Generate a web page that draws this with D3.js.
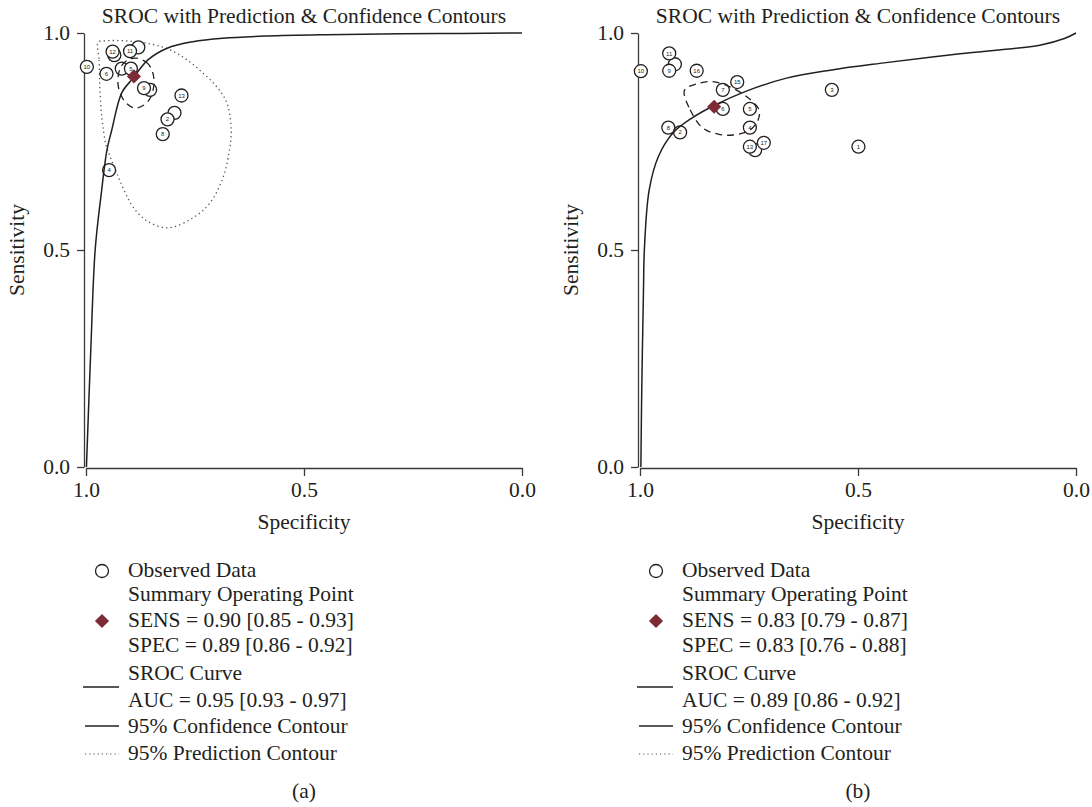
<!DOCTYPE html>
<html><head><meta charset="utf-8">
<script src="https://cdn.jsdelivr.net/npm/d3@7"></script>
<style>
body{margin:0;background:#fff}
svg{display:block}
text{font-family:"Liberation Serif","Times New Roman",serif;fill:#231f20}
</style>
</head><body>
<svg id="chart" width="1092" height="807"></svg>
<script>
// ---------------- DATA ----------------
const tickValues = [0, 0.5, 1];
const titleText = "SROC with Prediction & Confidence Contours";
const xTitle = "Specificity";
const yTitle = "Sensitivity";
const panelTags = ["(a)", "(b)"];

// Panel (a) studies (drawn in this order; earlier ones sit behind)
const studyLabelsA = ["1","7","15","10","12","11","14","5","6","9","13","3","2","8","4"];
const studySpecA   = [0.935,0.880,0.853,0.998,0.939,0.899,0.918,0.897,0.953,0.867,0.781,0.797,0.813,0.824,0.947];
const studySensA   = [0.949,0.967,0.869,0.922,0.957,0.958,0.918,0.918,0.906,0.873,0.856,0.816,0.801,0.767,0.684];
const summaryA = [0.89, 0.90]; // [spec, sens]
const srocSpecA = [0.999,0.989,0.979,0.965,0.952,0.941,0.918,0.892,0.858,0.814,0.755,0.686,0.585,0.45,0.28,0.14,0];
const srocSensA = [0.0,0.27,0.50,0.63,0.73,0.776,0.862,0.896,0.938,0.965,0.980,0.988,0.993,0.996,0.998,0.999,1.0];
const confSpecA = [0.885,0.862,0.849,0.844,0.851,0.867,0.888,0.908,0.922,0.927,0.920,0.904];
const confSensA = [0.942,0.933,0.915,0.887,0.853,0.834,0.827,0.839,0.862,0.892,0.922,0.938];
const predSpecA = [0.972,0.970,0.968,0.963,0.954,0.940,0.927,0.911,0.892,0.860,0.812,0.755,0.716,0.686,0.672,0.667,0.677,0.700,0.732,0.768,0.807,0.853,0.911,0.956];
const predSensA = [0.979,0.938,0.869,0.800,0.742,0.703,0.671,0.634,0.599,0.567,0.551,0.574,0.608,0.666,0.724,0.776,0.839,0.876,0.908,0.938,0.961,0.975,0.982,0.982];
const legendTextA = ["Observed Data","Summary Operating Point","SENS = 0.90 [0.85 - 0.93]","SPEC = 0.89 [0.86 - 0.92]","SROC Curve","AUC = 0.95 [0.93 - 0.97]","95% Confidence Contour","95% Prediction Contour"];

// Panel (b) studies
const studyLabelsB = ["12","14","10","11","9","16","15","7","3","6","5","4","8","2","17","13","1"];
const studySpecB   = [0.920,0.736,0.998,0.933,0.933,0.870,0.777,0.810,0.560,0.810,0.748,0.748,0.935,0.908,0.716,0.748,0.499];
const studySensB   = [0.928,0.730,0.912,0.953,0.913,0.913,0.887,0.869,0.869,0.825,0.825,0.782,0.782,0.771,0.747,0.738,0.738];
const summaryB = [0.83, 0.83];
const srocSpecB = [0.998,0.996,0.992,0.990,0.979,0.958,0.924,0.881,0.830,0.759,0.664,0.560,0.450,0.266,0.083,0.025,0];
const srocSensB = [0.0,0.177,0.408,0.500,0.638,0.715,0.770,0.804,0.833,0.865,0.896,0.915,0.930,0.952,0.972,0.988,1.0];
const confSpecB = [0.899,0.885,0.856,0.821,0.787,0.748,0.729,0.727,0.755,0.794,0.833,0.869,0.894];
const confSensB = [0.864,0.823,0.781,0.767,0.765,0.776,0.800,0.823,0.853,0.876,0.888,0.883,0.873];
const predSpecB = [];
const predSensB = [];
const legendTextB = ["Observed Data","Summary Operating Point","SENS = 0.83 [0.79 - 0.87]","SPEC = 0.83 [0.76 - 0.88]","SROC Curve","AUC = 0.89 [0.86 - 0.92]","95% Confidence Contour","95% Prediction Contour"];

// ---------------- DRAW ----------------
const svg = d3.select("#chart");
const INK = "#231f20", MAROON = "#7d2b35";
const FS = 21.5;
const plotTop = 33, plotBottom = 467, plotW = 436;
const zip = (a, b) => a.map((v, i) => ({spec: v, sens: b[i]}));

const panels = [
  {left: 86, tag: panelTags[0], labels: studyLabelsA, spec: studySpecA, sens: studySensA, summary: summaryA,
   sroc: zip(srocSpecA, srocSensA), conf: zip(confSpecA, confSensA), pred: zip(predSpecA, predSensA), legend: legendTextA},
  {left: 640, tag: panelTags[1], labels: studyLabelsB, spec: studySpecB, sens: studySensB, summary: summaryB,
   sroc: zip(srocSpecB, srocSensB), conf: zip(confSpecB, confSensB), pred: zip(predSpecB, predSensB), legend: legendTextB}
];

const diamond = d3.symbol().type(d3.symbolSquare).size(100);
const R = 6.5;

panels.forEach(p => {
  const x = d3.scaleLinear().domain([1, 0]).range([p.left, p.left + plotW]);
  const y = d3.scaleLinear().domain([0, 1]).range([plotBottom, plotTop]);
  const g = svg.append("g");
  const cx = p.left + plotW / 2;

  // title
  g.append("text").attr("x", cx).attr("y", 23).attr("text-anchor", "middle")
    .style("font-size", FS + "px").text(titleText);

  // y axis
  const ya = g.append("g").attr("transform", `translate(${p.left - 2},0)`)
    .call(d3.axisLeft(y).tickValues(tickValues).tickFormat(d3.format(".1f")).tickSize(7).tickSizeOuter(0).tickPadding(7));
  // x axis
  const xa = g.append("g").attr("transform", `translate(0,${plotBottom + 1})`)
    .call(d3.axisBottom(x).tickValues(tickValues).tickFormat(d3.format(".1f")).tickSize(8).tickSizeOuter(0).tickPadding(6));
  [ya, xa].forEach(a => {
    a.select(".domain").attr("stroke", "#3a3a3a").attr("stroke-width", 1.3);
    a.selectAll(".tick line").attr("stroke", "#3a3a3a").attr("stroke-width", 1.3);
    a.selectAll(".tick text").style("font-family", '"Liberation Serif",serif').style("font-size", FS + "px").attr("fill", INK);
  });

  // axis titles
  g.append("text").attr("x", cx).attr("y", 529).attr("text-anchor", "middle")
    .style("font-size", FS + "px").text(xTitle);
  g.append("text").attr("transform", `translate(${p.left - 62},${(plotTop + plotBottom) / 2}) rotate(-90)`)
    .attr("text-anchor", "middle").style("font-size", FS + "px").text(yTitle);

  const line = d3.line().x(d => x(d.spec)).y(d => y(d.sens));

  // prediction contour
  if (p.pred.length) {
    g.append("path").datum(p.pred)
      .attr("d", line.curve(d3.curveCatmullRomClosed.alpha(0.5)))
      .attr("fill", "none").attr("stroke", "#555").attr("stroke-width", 1.3)
      .attr("stroke-dasharray", "1.3,3.2");
  }

  // study circles (a label is hidden when a later-drawn circle covers it)
  const studies = p.labels.map((l, i) => ({label: l, px: x(p.spec[i]), py: y(p.sens[i]), i}));
  studies.forEach(s => {
    s.covered = studies.some(o => o.i > s.i && Math.hypot(o.px - s.px, o.py - s.py) < 2 * R - 3);
  });
  const sg = g.selectAll("g.study").data(studies).join("g").attr("class", "study")
    .attr("transform", d => `translate(${d.px},${d.py})`);
  sg.append("circle").attr("r", R).attr("fill", "#fff").attr("stroke", INK).attr("stroke-width", 1.3);
  sg.filter(d => !d.covered).append("text").attr("text-anchor", "middle").attr("dy", "0.35em")
    .style("font-family", '"Liberation Sans",sans-serif').style("font-size", "6px").attr("fill", "#555")
    .text(d => d.label);

  // SROC curve
  g.append("path").datum(p.sroc)
    .attr("d", line.curve(d3.curveCatmullRom.alpha(0.5)))
    .attr("fill", "none").attr("stroke", INK).attr("stroke-width", 1.5);

  // confidence contour
  g.append("path").datum(p.conf)
    .attr("d", line.curve(d3.curveCatmullRomClosed.alpha(0.5)))
    .attr("fill", "none").attr("stroke", INK).attr("stroke-width", 1.3)
    .attr("stroke-dasharray", "7,5");

  // summary point
  g.append("path").attr("d", diamond)
    .attr("transform", `translate(${x(p.summary[0])},${y(p.summary[1])}) rotate(45)`)
    .attr("fill", MAROON);

  // legend
  const lx = p.left + 42, sx = p.left + 16;
  const base = [577, 601, 627, 652, 680, 707, 733, 760];
  p.legend.forEach((t, i) => {
    g.append("text").attr("x", lx).attr("y", base[i]).style("font-size", FS + "px").text(t);
  });
  g.append("circle").attr("cx", sx).attr("cy", 571).attr("r", R).attr("fill", "none").attr("stroke", INK).attr("stroke-width", 1.3);
  g.append("path").attr("d", diamond).attr("transform", `translate(${sx},621) rotate(45)`).attr("fill", MAROON);
  g.append("line").attr("x1", p.left - 3).attr("x2", p.left + 33).attr("y1", 687).attr("y2", 687).attr("stroke", INK).attr("stroke-width", 1.3);
  g.append("line").attr("x1", p.left - 1).attr("x2", p.left + 33).attr("y1", 726).attr("y2", 726).attr("stroke", INK).attr("stroke-width", 1.3);
  g.append("line").attr("x1", p.left - 1).attr("x2", p.left + 33).attr("y1", 754).attr("y2", 754).attr("stroke", "#555").attr("stroke-width", 1.2).attr("stroke-dasharray", "1.2,3");

  // panel tag
  g.append("text").attr("x", cx).attr("y", 798).attr("text-anchor", "middle").style("font-size", FS + "px").text(p.tag);
});
</script>
</body></html>
